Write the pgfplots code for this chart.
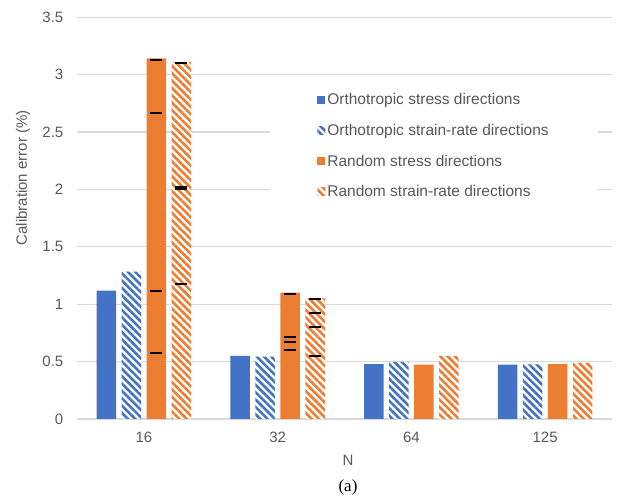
\documentclass[border=0pt]{standalone}
\usepackage{fontspec}
\setmainfont{Liberation Sans}
\newfontfamily\captionserif{Liberation Serif}
\usepackage{pgfplots}
\pgfplotsset{compat=1.18}
\usetikzlibrary{patterns.meta}

\definecolor{msblue}{HTML}{4472C4}
\definecolor{msorange}{HTML}{ED7D31}
\definecolor{gridgray}{HTML}{D9D9D9}
\definecolor{labelgray}{HTML}{595959}

\tikzset{
  hatched/.style={preaction={fill=white},
    pattern={Lines[angle=-45,distance=5.2pt,line width=2.6pt]},
    pattern color=#1},
}

\begin{document}
\begin{tikzpicture}
\useasboundingbox (0,0) rectangle (622pt,497pt);
\begin{axis}[
  at={(77pt,78pt)}, anchor=south west,
  scale only axis, width=535pt, height=401.7pt,
  xmin=-0.5, xmax=3.5, ymin=0, ymax=3.5,
  xtick={0,1,2,3}, xticklabels={16,32,64,125},
  ytick={0,0.5,1,1.5,2,2.5,3,3.5},
  yticklabels={0,0.5,1,1.5,2,2.5,3,3.5},
  major tick length=0pt,
  axis line style={draw=none},
  ymajorgrids, grid style={gridgray, line width=1.3pt},
  tick label style={font=\fontsize{15}{18}\selectfont, text=labelgray, inner sep=0pt},
  yticklabel style={anchor=east, xshift=-13.5pt},
  xticklabel style={anchor=center, yshift=-18.7pt},
  xlabel={N}, ylabel={Calibration error (\%)},
  every axis x label/.style={at={(axis description cs:0.5065,-0.102)}, anchor=center,
    font=\fontsize{15}{18}\selectfont, text=labelgray},
  every axis y label/.style={at={(axis description cs:-0.101,0.600)}, rotate=90, anchor=center,
    font=\fontsize{15}{18}\selectfont, text=labelgray},
  legend style={at={(axis description cs:0.361,0.826)}, anchor=north west,
    fill=white, draw=none, inner xsep=47pt, inner ysep=4pt, row sep=14pt,
    font=\fontsize{15.5}{18}\selectfont, text=labelgray},
  legend cell align=left,
  legend image code/.code={\draw[#1, draw=none] (0pt,-4pt) rectangle (8pt,4pt);},
]
% N = 16, 32, 64, 125 at positions 0..3
\addplot[ybar, bar width=0.146, bar shift=-0.28, fill=msblue, draw=none]
  coordinates {(0,1.118) (1,0.549) (2,0.479) (3,0.473)};
\addlegendentry{Orthotropic stress directions}
\addplot[ybar, bar width=0.146, bar shift=-0.094, hatched=msblue, draw=none]
  coordinates {(0,1.283) (1,0.543) (2,0.497) (3,0.476)};
\addlegendentry{Orthotropic strain-rate directions}
\addplot[ybar, bar width=0.146, bar shift=0.094, fill=msorange, draw=none]
  coordinates {(0,3.142) (1,1.100) (2,0.473) (3,0.479)};
\addlegendentry{Random stress directions}
\addplot[ybar, bar width=0.146, bar shift=0.28, hatched=msorange, draw=none]
  coordinates {(0,3.112) (1,1.051) (2,0.549) (3,0.488)};
\addlegendentry{Random strain-rate directions}

% individual run markers on the random-direction bars
\addplot[forget plot, only marks, mark=-, mark size=6pt, mark options={line width=2pt, black}]
  coordinates {(0.094,3.127) (0.094,2.668) (0.094,1.118) (0.094,0.572)
               (1.094,1.092) (1.094,0.712) (1.094,0.671) (1.094,0.598)};
\addplot[forget plot, only marks, mark=-, mark size=6pt, mark options={line width=2pt, black}]
  coordinates {(0.28,3.104) (0.28,2.023) (0.28,2.001) (0.28,1.176)
               (1.28,1.043) (1.28,0.926) (1.28,0.804) (1.28,0.549)};
\end{axis}
% figure caption below the chart
\node[font=\captionserif\fontsize{17}{20}\selectfont, anchor=center, inner sep=0pt]
  at (348pt,10pt) {(a)};
\end{tikzpicture}
\end{document}
